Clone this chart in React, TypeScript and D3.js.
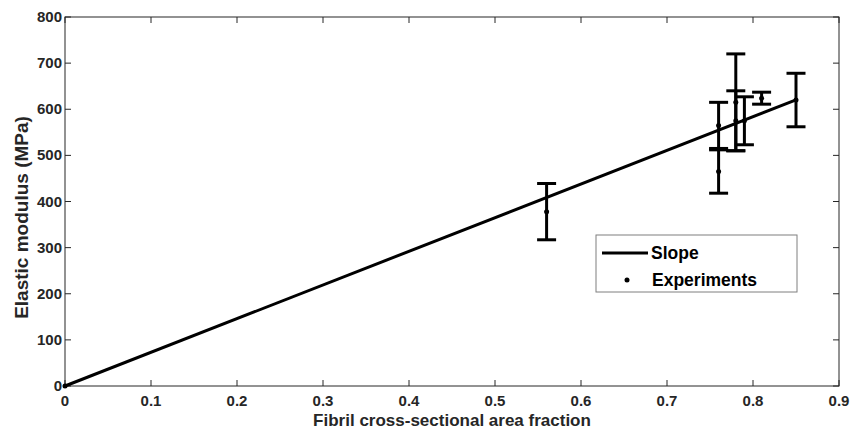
import React from "react";
import * as d3 from "d3";

const xTicks = [0, 0.1, 0.2, 0.3, 0.4, 0.5, 0.6, 0.7, 0.8, 0.9];
const yTicks = [0, 100, 200, 300, 400, 500, 600, 700, 800];

const expX = [0, 0.56, 0.76, 0.76, 0.78, 0.78, 0.79, 0.81, 0.85];
const expY = [0, 378, 565, 465, 615, 575, 575, 624, 620];
const expErr = [0, 61, 50, 47, 105, 65, 52, 13, 58];

const slopeX = [0, 0.85];
const slopeValue = 730;

export default function App() {
  const W = 850, H = 430;
  const m = { left: 65, right: 11, top: 17, bottom: 44 };
  const x = d3.scaleLinear().domain([0, 0.9]).range([m.left, W - m.right]);
  const y = d3.scaleLinear().domain([0, 800]).range([H - m.bottom, m.top]);
  const axisColor = "#262626";
  const font = "'Liberation Sans', Arial, sans-serif";
  const line = d3.line<number>().x(d => x(d)).y(d => y(d * slopeValue));
  const cap = 9.5;
  const tick = 6;
  return (
    <svg width={W} height={H} style={{ position: "absolute", left: 0, top: 0 }} fontFamily={font}>
      <rect x={0} y={0} width={W} height={H} fill="#fff" />
      <rect x={x(0)} y={y(800)} width={x(0.9) - x(0)} height={y(0) - y(800)} fill="none" stroke={axisColor} strokeWidth={1} />
      {xTicks.map((t, i) => (
        <g key={"xt" + i}>
          <line x1={x(t)} x2={x(t)} y1={y(0)} y2={y(0) - tick} stroke={axisColor} />
          <line x1={x(t)} x2={x(t)} y1={y(800)} y2={y(800) + tick} stroke={axisColor} />
          <text x={x(t)} y={y(0) + 19.5} textAnchor="middle" fontSize={15} fontWeight="bold" fill={axisColor}>{String(t)}</text>
        </g>
      ))}
      {yTicks.map((t, i) => (
        <g key={"yt" + i}>
          <line x1={x(0)} x2={x(0) + tick} y1={y(t)} y2={y(t)} stroke={axisColor} />
          <line x1={x(0.9)} x2={x(0.9) - tick} y1={y(t)} y2={y(t)} stroke={axisColor} />
          <text x={x(0) - 3} y={y(t) + 5} textAnchor="end" fontSize={15} fontWeight="bold" fill={axisColor}>{String(t)}</text>
        </g>
      ))}
      <text x={452} y={H - 4} textAnchor="middle" fontSize={17} fontWeight="bold" fill={axisColor}>Fibril cross-sectional area fraction</text>
      <text transform={`translate(28,${(y(0) + y(800)) / 2 + 16}) rotate(-90)`} textAnchor="middle" fontSize={19} fontWeight="bold" fill={axisColor}>Elastic modulus (MPa)</text>
      <path d={line(slopeX) || ""} fill="none" stroke="#000" strokeWidth={3} />
      {expX.map((xv, i) => {
        const cx = x(xv);
        const lo = y(expY[i] - expErr[i]);
        const hi = y(expY[i] + expErr[i]);
        return (
          <g key={"e" + i}>
            {expErr[i] > 0 && (
              <g stroke="#000" strokeWidth={3}>
                <line x1={cx} x2={cx} y1={lo} y2={hi} />
                <line x1={cx - cap} x2={cx + cap} y1={lo} y2={lo} />
                <line x1={cx - cap} x2={cx + cap} y1={hi} y2={hi} />
              </g>
            )}
            <circle cx={cx} cy={y(expY[i])} r={2.5} fill="#000" />
          </g>
        );
      })}
      <g>
        <rect x={596} y={235} width={201} height={57} fill="#fff" stroke="#7f7f7f" strokeWidth={1} />
        <line x1={602} x2={648} y1={253} y2={253} stroke="#000" strokeWidth={3} />
        <text x={651} y={259} fontSize={17.5} fontWeight="bold" fill="#000">Slope</text>
        <circle cx={627} cy={280} r={2.5} fill="#000" />
        <text x={652} y={286} fontSize={17.5} fontWeight="bold" fill="#000">Experiments</text>
      </g>
    </svg>
  );
}
